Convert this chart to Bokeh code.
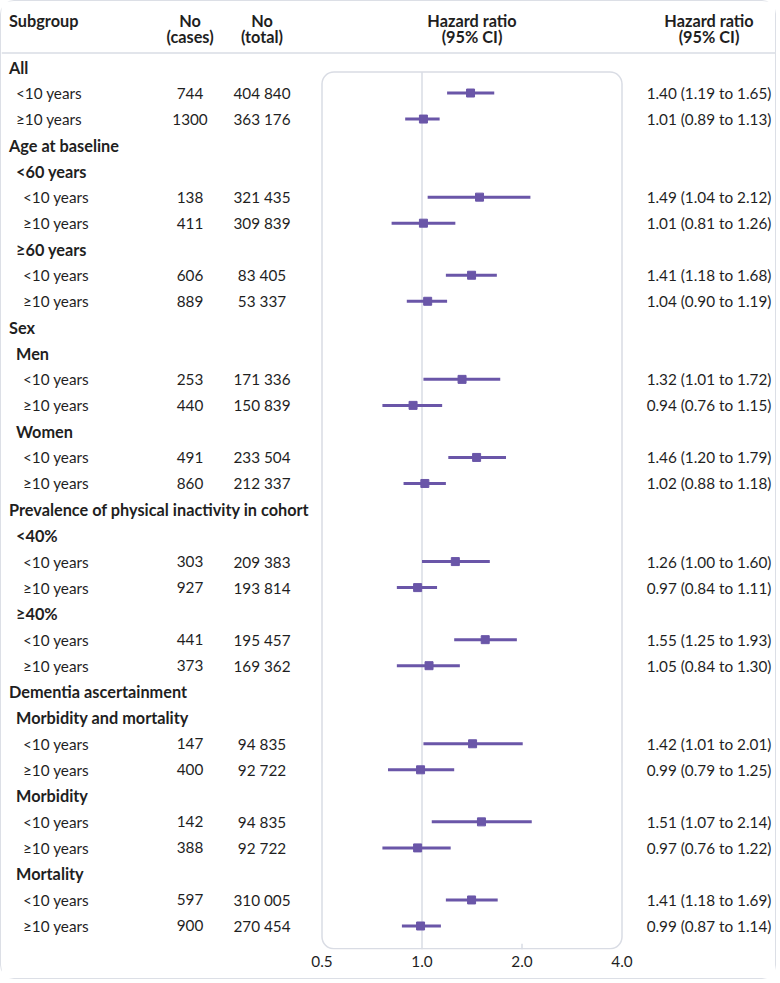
import math
from bokeh.plotting import figure
from bokeh.models import (Range1d, LogScale, LogAxis, FixedTicker, PrintfTickFormatter,
                          ColumnDataSource)
from bokeh.core.properties import value
from bokeh.embed import file_html
from bokeh.resources import INLINE

# ---------------- data ----------------
labels = ["All", "<10 years", "≥10 years",
          "Age at baseline", "<60 years", "<10 years", "≥10 years",
          "≥60 years", "<10 years", "≥10 years",
          "Sex", "Men", "<10 years", "≥10 years",
          "Women", "<10 years", "≥10 years",
          "Prevalence of physical inactivity in cohort", "<40%", "<10 years", "≥10 years",
          "≥40%", "<10 years", "≥10 years",
          "Dementia ascertainment", "Morbidity and mortality", "<10 years", "≥10 years",
          "Morbidity", "<10 years", "≥10 years",
          "Mortality", "<10 years", "≥10 years"]
levels = [0, 1, 1,
          0, 1, 2, 2,
          1, 2, 2,
          0, 1, 2, 2,
          1, 2, 2,
          0, 1, 2, 2,
          1, 2, 2,
          0, 1, 2, 2,
          1, 2, 2,
          1, 2, 2]
cases = [None, 744, 1300,
         None, None, 138, 411,
         None, 606, 889,
         None, None, 253, 440,
         None, 491, 860,
         None, None, 303, 927,
         None, 441, 373,
         None, None, 147, 400,
         None, 142, 388,
         None, 597, 900]
totals = [None, 404840, 363176,
          None, None, 321435, 309839,
          None, 83405, 53337,
          None, None, 171336, 150839,
          None, 233504, 212337,
          None, None, 209383, 193814,
          None, 195457, 169362,
          None, None, 94835, 92722,
          None, 94835, 92722,
          None, 310005, 270454]
hr = [None, 1.40, 1.01,
      None, None, 1.49, 1.01,
      None, 1.41, 1.04,
      None, None, 1.32, 0.94,
      None, 1.46, 1.02,
      None, None, 1.26, 0.97,
      None, 1.55, 1.05,
      None, None, 1.42, 0.99,
      None, 1.51, 0.97,
      None, 1.41, 0.99]
lo = [None, 1.19, 0.89,
      None, None, 1.04, 0.81,
      None, 1.18, 0.90,
      None, None, 1.01, 0.76,
      None, 1.20, 0.88,
      None, None, 1.00, 0.84,
      None, 1.25, 0.84,
      None, None, 1.01, 0.79,
      None, 1.07, 0.76,
      None, 1.18, 0.87]
hi = [None, 1.65, 1.13,
      None, None, 2.12, 1.26,
      None, 1.68, 1.19,
      None, None, 1.72, 1.15,
      None, 1.79, 1.18,
      None, None, 1.60, 1.11,
      None, 1.93, 1.30,
      None, None, 2.01, 1.25,
      None, 2.14, 1.22,
      None, 1.69, 1.14]
hr_ticks = [0.5, 1.0, 2.0, 4.0]
ref_value = 1.0

# ---------------- layout ----------------
W, H = 776, 979
FONT = "Lato"
FS = "15.3px"
FS_B = "16.3px"
TXT = "#1f1f1f"
PURPLE = "#6a56a8"
GREY = "#d9dce4"

frame_bottom_px = 948
row0_px = 65.5
row_step = 26.03
y_top = -row0_px / row_step
y_bot = (frame_bottom_px - row0_px) / row_step
def row_of(px):
    return (px - row0_px) / row_step

# HR axis placement (pixels within figure)
px_lo, px_hi = 320.5, 620.5
per_doubling = (px_hi - px_lo) / math.log2(hr_ticks[-1] / hr_ticks[0])
hr_start = hr_ticks[0] * 2 ** (-px_lo / per_doubling)
hr_end = hr_ticks[-1] * 2 ** ((W - px_hi) / per_doubling)

p = figure(width=W, height=H, output_backend="svg", toolbar_location=None,
           x_range=Range1d(0, W), y_range=Range1d(y_bot, y_top),
           x_axis_location=None, y_axis_location=None,
           min_border_left=0, min_border_right=0, min_border_top=0,
           min_border_bottom=H - frame_bottom_px)
p.grid.visible = False
p.outline_line_color = None
p.background_fill_color = "white"
p.border_fill_color = "white"
p.extra_x_ranges = {"hr": Range1d(hr_start, hr_end)}
p.extra_x_scales = {"hr": LogScale()}
p.styles = {"border": "1.5px solid #dcdfe6", "border-radius": "14px"}

# header
x_sub, x_cases, x_total, x_mid, x_hr = 7.5, 188.5, 260.5, 470.5, 707.5
h1, h2 = row_of(18.5), row_of(34.5)
def txt(x, y, t, align="left", bold=False, **kw):
    p.text(x=x, y=y, text=t, text_align=align, text_baseline="middle",
           text_font=value(FONT), text_font_size=FS_B if bold else FS, text_color=TXT,
           text_font_style="bold" if bold else "normal", **kw)

txt([x_sub], [h1], ["Subgroup"], bold=True)
txt([x_cases, x_total, x_mid, x_hr], [h1] * 4,
    ["No", "No", "Hazard ratio", "Hazard ratio"], align="center", bold=True)
txt([x_cases, x_total, x_mid, x_hr], [h2] * 4,
    ["(cases)", "(total)", "(95% CI)", "(95% CI)"], align="center", bold=True)
sep = row_of(51.5)
p.segment(x0=[0], x1=[W], y0=[sep], y1=[sep], line_color=GREY, line_width=1.5)

# rows
indent = [7.5, 14.5, 21.5]
rows = list(range(len(labels)))
is_head = [c is None for c in cases]
bold_x = [indent[l] for l, h in zip(levels, is_head) if h]
bold_y = [r for r, h in zip(rows, is_head) if h]
bold_t = [t for t, h in zip(labels, is_head) if h]
txt(bold_x, bold_y, bold_t, bold=True)

def fmt_n(n):
    return f"{n:,}".replace(",", " ") if n >= 10000 else str(n)

dr = [r for r in rows if cases[r] is not None]
txt([indent[levels[r]] for r in dr], dr, [labels[r] for r in dr])
txt([x_cases] * len(dr), dr, [str(cases[r]) for r in dr], align="center")
txt([x_total] * len(dr), dr, [fmt_n(totals[r]) for r in dr], align="center")
txt([x_hr] * len(dr), dr, [f"{hr[r]:.2f} ({lo[r]:.2f} to {hi[r]:.2f})" for r in dr],
    align="center")

# forest box
box_top = row_of(70.5)
p.quad(left=[hr_ticks[0]], right=[hr_ticks[-1]], top=[box_top], bottom=[y_bot - 0.03],
       fill_color="white", line_color=GREY, line_width=1.5, border_radius=12,
       x_range_name="hr")
p.segment(x0=[ref_value], x1=[ref_value], y0=[box_top], y1=[y_bot], line_color=GREY,
          line_width=1.5, x_range_name="hr")
inner = [t for t in hr_ticks[1:-1] if t != ref_value]
p.segment(x0=inner, x1=inner, y0=[y_bot - 0.22] * len(inner), y1=[y_bot] * len(inner),
          line_color=GREY, line_width=1.5, x_range_name="hr")

src = ColumnDataSource(dict(y=dr, hr=[hr[r] for r in dr], lo=[lo[r] for r in dr],
                            hi=[hi[r] for r in dr]))
p.segment(x0="lo", x1="hi", y0="y", y1="y", source=src, line_color=PURPLE,
          line_width=3, x_range_name="hr")
p.scatter(x="hr", y="y", source=src, marker="square", size=8, fill_color=PURPLE,
          line_color=PURPLE, x_range_name="hr")

ax = LogAxis(x_range_name="hr", ticker=FixedTicker(ticks=hr_ticks),
             formatter=PrintfTickFormatter(format="%.1f"))
ax.axis_line_color = None
ax.major_tick_line_color = None
ax.minor_tick_line_color = None
ax.major_tick_out = 0
ax.major_tick_in = 0
ax.major_label_standoff = 6
ax.major_label_text_font = FONT
ax.major_label_text_font_size = FS
ax.major_label_text_color = TXT
p.add_layout(ax, "below")

open("out.html", "w").write(file_html(p, INLINE))
